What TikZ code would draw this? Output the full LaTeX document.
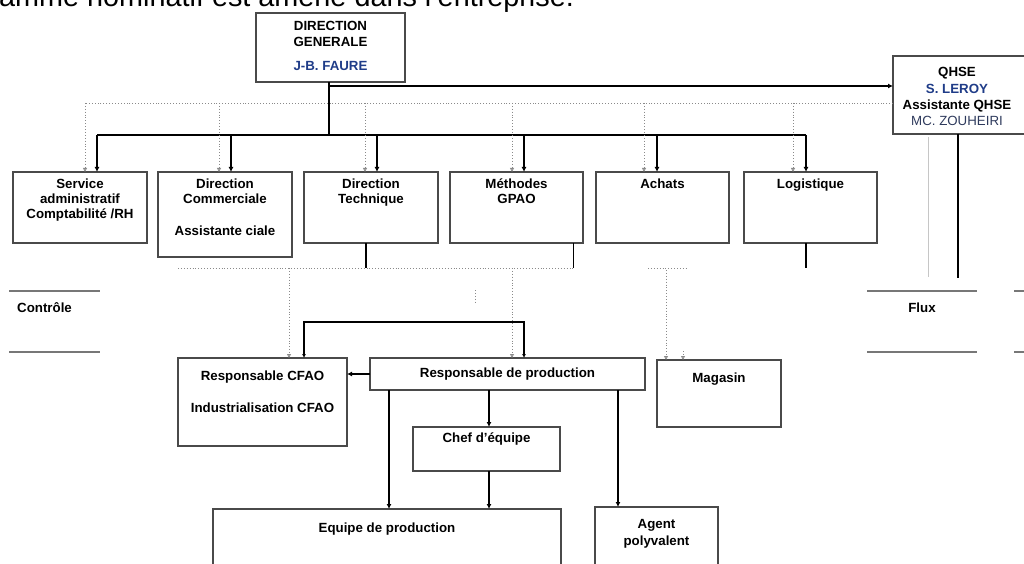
\documentclass[tikz,border=0pt]{standalone}
\usepackage{fontspec}
\setmainfont{Liberation Sans}
\usetikzlibrary{arrows.meta,calc}
\definecolor{bord}{HTML}{4A4A4A}
\definecolor{dblue}{HTML}{1F3C88}
\definecolor{slate}{HTML}{2E3A5C}
\definecolor{dotg}{HTML}{8A8A8A}
\definecolor{lineg}{HTML}{777777}
\begin{document}
\begin{tikzpicture}[x=1pt,y=-1pt,
  box/.style={draw=bord,line width=1.1pt,anchor=north west,inner sep=0pt,outer sep=0pt},
  t/.style={font=\fontsize{13.3}{15}\selectfont\bfseries,anchor=base,inner sep=0pt},
  tr/.style={font=\fontsize{13.3}{15}\selectfont,anchor=base,inner sep=0pt},
  conn/.style={line width=1.2pt,black,-{Latex[length=5pt,width=5pt]}},
  plain/.style={line width=1.2pt,black},
  dotline/.style={dotg,line width=0.9pt,dotted},
  dotarr/.style={dotline,-{Triangle[open,length=4pt,width=4pt]}},
  half/.style={lineg,line width=1.3pt}]
\useasboundingbox (0,0) rectangle (1024,564);
\clip (0,0) rectangle (1024,564);

% heading (cut off at the top, as in the reference)
\node[anchor=base west,inner sep=0pt,font=\fontsize{28.8}{30}\selectfont] (head) at (-1,6.5) {amme nominatif est amené dans l'entreprise.};

% boxes
\node[box,minimum width=149pt,minimum height=69pt] (dg) at (256,13) {};
\node[box,minimum width=150pt,minimum height=78pt] (qhse) at (893,56) {};
\node[box,minimum width=134pt,minimum height=71pt] (svc) at (13,172) {};
\node[box,minimum width=134pt,minimum height=85pt] (dcom) at (158,172) {};
\node[box,minimum width=134pt,minimum height=71pt] (dtech) at (304,172) {};
\node[box,minimum width=133pt,minimum height=71pt] (meth) at (450,172) {};
\node[box,minimum width=133pt,minimum height=71pt] (ach) at (596,172) {};
\node[box,minimum width=133pt,minimum height=71pt] (logi) at (744,172) {};
\node[box,minimum width=169pt,minimum height=88pt] (cfao) at (178,358) {};
\node[box,minimum width=275pt,minimum height=32pt] (rprod) at (370,358) {};
\node[box,minimum width=124pt,minimum height=67pt] (mag) at (657,360) {};
\node[box,minimum width=147pt,minimum height=44pt] (chef) at (413,427) {};
\node[box,minimum width=348pt,minimum height=70pt] (equipe) at (213,509) {};
\node[box,minimum width=123pt,minimum height=70pt] (agent) at (595,507) {};

% texts
\node[t] (dg1) at (330.5,31) {DIRECTION};
\node[t] (dg2) at (330.5,47) {GENERALE};
\node[t,text=dblue] (dg3) at (330.5,71) {J-B. FAURE};
\node[t] (q1) at (957,77) {QHSE};
\node[t,text=dblue] (q2) at (957,94) {S. LEROY};
\node[t] (q3) at (957,110) {Assistante QHSE};
\node[tr,text=slate] (q4) at (957,126) {MC. ZOUHEIRI};
\node[t] (s1) at (80,188) {Service};
\node[t] (s2) at (80,203) {administratif};
\node[t] (s3) at (80,218) {Comptabilité /RH};
\node[t] (c1) at (225,188) {Direction};
\node[t] (c2) at (225,203) {Commerciale};
\node[t] (c3) at (225,235) {Assistante ciale};
\node[t] (d1) at (371,188) {Direction};
\node[t] (d2) at (371,203) {Technique};
\node[t] (m1) at (516.5,188) {Méthodes};
\node[t] (m2) at (516.5,203) {GPAO};
\node[t] (a1) at (662.5,188) {Achats};
\node[t] (l1) at (810.5,188) {Logistique};
\node[t,anchor=base west] (ctrl) at (17,312) {Contrôle};
\node[t] (flux) at (922,312) {Flux};
\node[t] (cf1) at (262.5,380) {Responsable CFAO};
\node[t] (cf2) at (262.5,412) {Industrialisation CFAO};
\node[t] (rp1) at (507.5,377) {Responsable de production};
\node[t] (mg1) at (719,382) {Magasin};
\node[t] (ch1) at (486.5,442) {Chef d’équipe};
\node[t] (eq1) at (387,532) {Equipe de production};
\node[t] (ag1) at (656.5,528) {Agent};
\node[t] (ag2) at (656.5,545) {polyvalent};

% top level connectors
\coordinate (bar) at (329,135);
\draw[plain] (329,0 |- dg.south) -- (bar);
\draw[plain] (97,135) -- (806,135);
\draw[conn] (329,86) -- (qhse.west |- 0,86);
\draw[dotline] (qhse.west |- 0,103) -- (85,103);
\foreach \x in {85,219,365,512,644,793}
  \draw[dotarr] (\x,103) -- (\x,0 |- svc.north);
\foreach \x in {97,231,377,524,657,806}
  \draw[conn] (\x,135) -- (\x,0 |- svc.north);

% remnants below the first row
\draw[plain,line width=1.1pt] (366,0 |- dtech.south) -- (366,268);
\draw[plain,line width=1.1pt] (573.5,0 |- meth.south) -- (573.5,268);
\draw[plain,line width=1.1pt] (806,0 |- logi.south) -- (806,268);
\draw[dotline] (178,268) -- (573,268);
\draw[dotline] (648,268) -- (688,268);
\draw[dotarr] (289,268) -- (289,0 |- cfao.north);
\draw[dotarr] (512,268) -- (512,0 |- rprod.north);
\draw[dotarr] (666,270) -- (666,0 |- mag.north);
\draw[dotarr] (683,351) -- (683,0 |- mag.north);
\draw[dotline] (475,290) -- (475,303);

% QHSE lines and partial boxes
\draw[plain] (958,0 |- qhse.south) -- (958,278);
\draw[gray!45,line width=0.9pt] (928,137) -- (928,277);
\draw[half] (867,291) -- (977,291);
\draw[half] (867,352) -- (977,352);
\draw[half] (1014,291) -- (1030,291);
\draw[half] (1014,352) -- (1030,352);
\draw[half] (9,291) -- (100,291);
\draw[half] (9,352) -- (100,352);

% production area
\draw[line width=1.1pt,{Latex[length=4pt,width=4pt]}-{Latex[length=4pt,width=4pt]}]
  (304,0 |- cfao.north) -- (304,322) -- (524,322) -- (524,0 |- rprod.north);
\draw[conn] (rprod.west |- 0,374) -- (cfao.east |- 0,374);
\draw[conn] (489,0 |- rprod.south) -- (489,0 |- chef.north);
\draw[conn] (389,0 |- rprod.south) -- (389,0 |- equipe.north);
\draw[conn] (489,0 |- chef.south) -- (489,0 |- equipe.north);
\draw[conn] (618,0 |- rprod.south) -- (618,0 |- agent.north);
\end{tikzpicture}
\end{document}
